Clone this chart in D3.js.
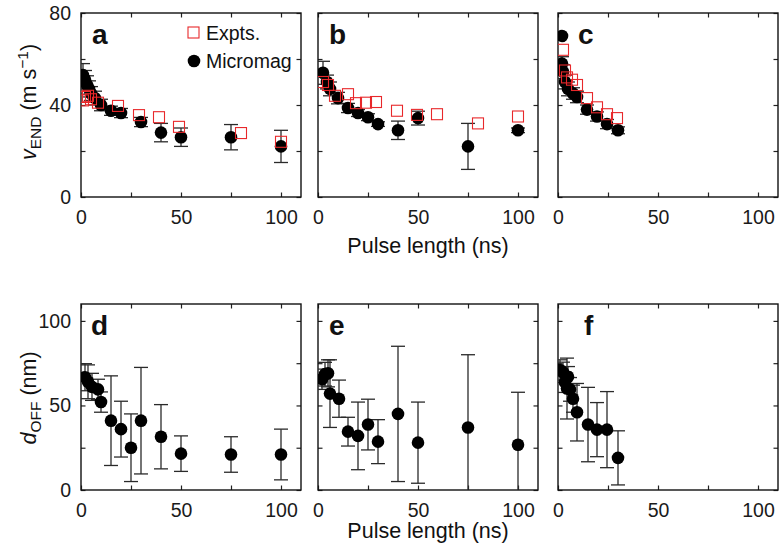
<!DOCTYPE html>
<html>
<head>
<meta charset="utf-8">
<script src="https://cdn.jsdelivr.net/npm/d3@7"></script>
<style>
  body { margin: 0; background: #fff; }
  svg { font-family: "Liberation Sans", Arial, sans-serif; }
</style>
</head>
<body>
<div id="chart"></div>
<script>
// panel a: v_END
const aSimT = [1, 2, 3, 4, 5, 7, 10, 15, 20, 30, 40, 50, 75, 100];
const aSimV = [53, 51, 48.7, 47, 45, 43, 40, 37.5, 36.5, 32.6, 28, 26, 26, 22];
const aSimE = [5, 4, 4, 3.5, 3, 3, 2.5, 2, 2, 2, 4, 4, 5.5, 7];
const aExpT = [1, 2, 3.5, 5, 8.5, 18.5, 29, 39, 49, 80, 100];
const aExpV = [42, 43.5, 44, 42.5, 41, 39.6, 35.6, 34.7, 30.5, 27.8, 24];

// panel b
const bSimT = [2.5, 4.5, 6, 10, 15, 20, 25, 30, 40, 50, 75, 100];
const bSimV = [54, 50, 47, 43, 38.7, 36.5, 34.7, 31.7, 29, 34.3, 22, 29];
const bSimE = [5, 3, 3, 2.5, 2, 1.5, 1.5, 1, 4, 3, 10, 1];
const bExpT = [2.5, 5, 8.5, 15, 19, 24, 29, 39.5, 49.5, 59.5, 80, 100];
const bExpV = [50, 48.7, 44, 44.7, 40.8, 41, 41.3, 37.5, 35.7, 36, 32, 35];

// panel c
const cSimT = [2, 2, 2.5, 3.5, 5, 7.5, 9.5, 14.5, 19.5, 24.5, 30];
const cSimV = [70, 58, 54.5, 50, 47, 45, 43.5, 38, 35, 31.7, 29];
const cSimE = [0, 3, 3, 3, 3, 2.5, 2.5, 2, 2, 2, 1.5];
const cExpT = [2.5, 3.5, 4.5, 7, 9.5, 14.5, 19.5, 24.5, 29.5];
const cExpV = [64, 55, 52, 51, 48.7, 43, 39, 36, 34.3];

// panel d: d_OFF
const dT = [2, 3.5, 5.5, 8.5, 10, 15, 20, 25, 30, 40, 50, 75, 100];
const dV = [66.7, 64, 61, 59.5, 52, 41, 36, 25, 41, 31.5, 21.5, 21, 21];
const dE = [8, 10, 8, 6, 6, 26.5, 16.5, 20, 31.5, 19, 10.5, 10.5, 15];

// panel e
const eT = [2, 3.5, 5, 6, 10.5, 15, 20, 25, 30, 40, 50, 75, 100];
const eV = [65.5, 68.5, 69, 57, 54, 34.5, 32, 38.7, 28.6, 45, 28, 37, 26.8];
const eE = [6, 7, 8, 20, 11, 8.5, 20, 15, 13, 40, 24, 43, 31];

// panel f
const fT = [1, 2.5, 3.5, 4.5, 5, 6, 7.5, 9.5, 15, 19.5, 24.5, 30];
const fV = [71, 69.6, 63.7, 60, 67, 59.5, 54, 46, 38.7, 35.7, 35.7, 19];
const fE = [6, 6, 6, 18, 6, 7, 8, 17, 22, 16, 22.5, 16];

const xTickVals = [0, 25, 50, 75, 100];
const xTickLabels = [0, 50, 100];
const topTickVals = [0, 20, 40, 60, 80];
const topTickLabels = [0, 40, 80];
const botTickVals = [0, 25, 50, 75, 100];
const botTickLabels = [0, 50, 100];

const W = 781, H = 555;
const svg = d3.select("#chart").append("svg").attr("width", W).attr("height", H);

const cols = [81, 318, 558];
const pw = 220;
const rows = [
  { y0: 13, y1: 197, dom: [0, 80], ticks: topTickVals, labels: topTickLabels },
  { y0: 304, y1: 490, dom: [0, 110], ticks: botTickVals, labels: botTickLabels }
];

const red = "#e8282b";
const ebColor = "#2a2a2a";
const fs = 19.5;

function panel(ci, ri, letter, sims, exps, letterX) {
  const r = rows[ri];
  const x0 = cols[ci];
  const x = d3.scaleLinear().domain([0, 110]).range([x0, x0 + pw]);
  const y = d3.scaleLinear().domain(r.dom).range([r.y1, r.y0]);
  const g = svg.append("g");
  const id = "clip" + letter;
  svg.append("clipPath").attr("id", id).append("rect")
    .attr("x", x0).attr("y", r.y0).attr("width", pw).attr("height", r.y1 - r.y0);

  const fmtX = d => xTickLabels.includes(d) ? d : "";
  const fmtY = d => r.labels.includes(d) ? d : "";

  g.append("g").attr("transform", `translate(0,${r.y1})`)
    .call(d3.axisBottom(x).tickValues(xTickVals).tickSize(-4.5).tickPadding(13).tickFormat(fmtX));
  g.append("g").attr("transform", `translate(0,${r.y0})`)
    .call(d3.axisTop(x).tickValues(xTickVals).tickSize(-4.5).tickFormat(""));
  g.append("g").attr("transform", `translate(${x0},0)`)
    .call(d3.axisLeft(y).tickValues(r.ticks).tickSize(-4.5).tickPadding(10).tickFormat(ci === 0 ? fmtY : ""));
  g.append("g").attr("transform", `translate(${x0 + pw},0)`)
    .call(d3.axisRight(y).tickValues(r.ticks).tickSize(-4.5).tickFormat(""));
  g.selectAll(".domain").remove();
  g.selectAll(".tick line").attr("stroke", "#222").attr("stroke-width", 1.2);
  g.selectAll(".tick text").attr("font-size", fs).attr("fill", "#1a1a1a")
    .attr("font-family", "\"Liberation Sans\", Arial, sans-serif");

  g.append("rect").attr("x", x0).attr("y", r.y0).attr("width", pw).attr("height", r.y1 - r.y0)
    .attr("fill", "none").attr("stroke", "#111").attr("stroke-width", 1.4);

  const pg = g.append("g").attr("clip-path", `url(#${id})`);

  if (sims) {
    const data = sims.t.map((t, i) => ({ t, v: sims.v[i], e: sims.e[i] }));
    const eb = pg.append("g").attr("stroke", ebColor).attr("stroke-width", 1.3);
    data.filter(d => d.e > 0).forEach(d => {
      eb.append("line").attr("x1", x(d.t)).attr("x2", x(d.t)).attr("y1", y(d.v - d.e)).attr("y2", y(d.v + d.e));
      [d.v - d.e, d.v + d.e].forEach(yy => {
        eb.append("line").attr("x1", x(d.t) - 7).attr("x2", x(d.t) + 7).attr("y1", y(yy)).attr("y2", y(yy));
      });
    });
    pg.append("g").selectAll("circle").data(data).join("circle")
      .attr("cx", d => x(d.t)).attr("cy", d => y(d.v)).attr("r", 6.3).attr("fill", "#000");
  }
  if (exps) {
    const data = exps.t.map((t, i) => ({ t, v: exps.v[i] }));
    pg.append("g").selectAll("rect").data(data).join("rect")
      .attr("x", d => x(d.t) - 5.5).attr("y", d => y(d.v) - 5.5).attr("width", 11).attr("height", 11)
      .attr("fill", "none").attr("stroke", red).attr("stroke-width", 1.1);
  }

  g.append("text").attr("x", letterX).attr("y", r.y0 + 31)
    .attr("font-size", 28).attr("font-weight", "bold").attr("fill", "#111").text(letter);
}

panel(0, 0, "a", { t: aSimT, v: aSimV, e: aSimE }, { t: aExpT, v: aExpV }, 92);
panel(1, 0, "b", { t: bSimT, v: bSimV, e: bSimE }, { t: bExpT, v: bExpV }, 329);
panel(2, 0, "c", { t: cSimT, v: cSimV, e: cSimE }, { t: cExpT, v: cExpV }, 578);
panel(0, 1, "d", { t: dT, v: dV, e: dE }, null, 91);
panel(1, 1, "e", { t: eT, v: eV, e: eE }, null, 329);
panel(2, 1, "f", { t: fT, v: fV, e: fE }, null, 584);

// legend
const lg = svg.append("g");
lg.append("rect").attr("x", 188).attr("y", 27).attr("width", 11).attr("height", 11)
  .attr("fill", "none").attr("stroke", red).attr("stroke-width", 1.1);
lg.append("text").attr("x", 206).attr("y", 40).attr("font-size", fs).attr("fill", "#111").text("Expts.");
lg.append("circle").attr("cx", 194).attr("cy", 61).attr("r", 6.3).attr("fill", "#000");
lg.append("text").attr("x", 206).attr("y", 68).attr("font-size", fs).attr("fill", "#111").text("Micromag");

// axis titles
svg.append("text").attr("x", 428).attr("y", 253).attr("text-anchor", "middle")
  .attr("font-size", 21.5).attr("fill", "#111").text("Pulse length (ns)");
svg.append("text").attr("x", 428).attr("y", 538).attr("text-anchor", "middle")
  .attr("font-size", 21.5).attr("fill", "#111").text("Pulse length (ns)");

const yl1 = svg.append("text").attr("transform", "translate(36,102) rotate(-90)")
  .attr("text-anchor", "middle").attr("font-size", 21.5).attr("fill", "#111");
yl1.append("tspan").attr("font-style", "italic").text("v");
yl1.append("tspan").attr("font-size", 15.5).attr("dy", 5).text("END");
yl1.append("tspan").attr("dy", -5).text(" (m s");
yl1.append("tspan").attr("font-size", 15.5).attr("dy", -8).text("−1");
yl1.append("tspan").attr("dy", 8).text(")");

const yl2 = svg.append("text").attr("transform", "translate(36,398) rotate(-90)")
  .attr("text-anchor", "middle").attr("font-size", 21.5).attr("fill", "#111");
yl2.append("tspan").attr("font-style", "italic").text("d");
yl2.append("tspan").attr("font-size", 15.5).attr("dy", 5).text("OFF");
yl2.append("tspan").attr("dy", -5).text(" (nm)");
</script>
</body>
</html>
